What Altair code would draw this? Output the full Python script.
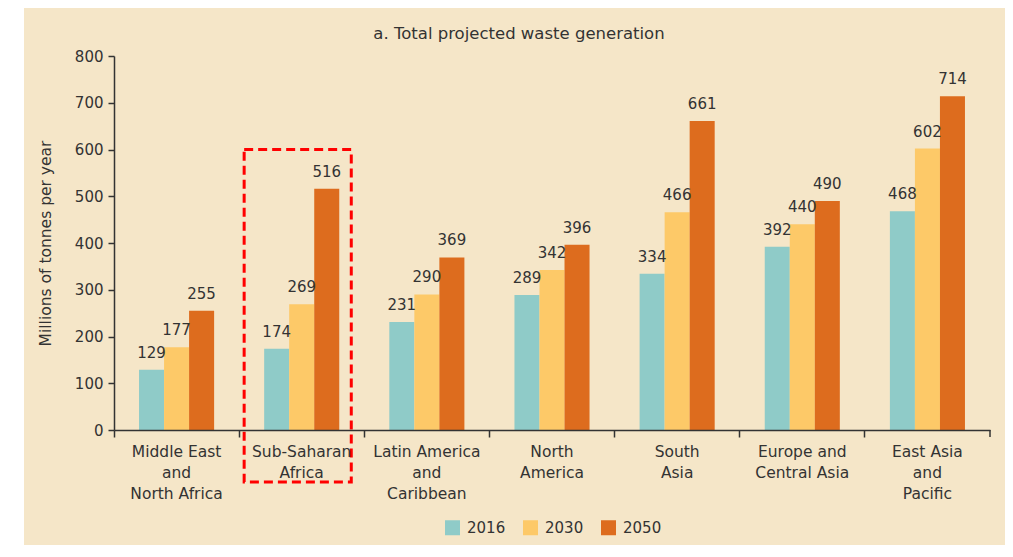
import altair as alt
import pandas as pd

categories = [
    "Middle East|and|North Africa",
    "Sub-Saharan|Africa",
    "Latin America|and|Caribbean",
    "North|America",
    "South|Asia",
    "Europe and|Central Asia",
    "East Asia|and|Pacific",
]
years = ["2016", "2030", "2050"]
v2016 = [129, 174, 231, 289, 334, 392, 468]
v2030 = [177, 269, 290, 342, 466, 440, 602]
v2050 = [255, 516, 369, 396, 661, 490, 714]
colors = ["#8FCBC8", "#FDC968", "#DD6C1E"]

chart_title = ["a. Total projected waste generation"]
highlight_region = ["Sub-Saharan|Africa"]
highlight_top = [600]

rows = []
for yr, vals in zip(years, [v2016, v2030, v2050]):
    for c, v in zip(categories, vals):
        rows.append({"region": c, "year": yr, "value": v})
df = pd.DataFrame(rows)
hl = pd.DataFrame({"region": highlight_region, "top": highlight_top})

W, H = 876, 374
FONT = "DejaVu Sans"
TXT = "#333333"
BG = "#F5E6C8"

xenc = alt.X(
    "region:N",
    sort=categories,
    scale=alt.Scale(paddingInner=0, paddingOuter=0),
    axis=alt.Axis(
        title=None,
        labelExpr="split(datum.label, '|')",
        labelAngle=0,
        labelFontSize=15.5,
        labelLineHeight=21,
        labelColor=TXT,
        labelPadding=7,
        bandPosition=0,
        tickSize=7,
        tickColor=TXT,
        tickWidth=1.5,
        domainColor=TXT,
        domainWidth=1.5,
        labelFont=FONT,
        zindex=2,
    ),
)
xoff = alt.XOffset("year:N", sort=years, scale=alt.Scale(paddingOuter=1, paddingInner=0))
yenc = alt.Y(
    "value:Q",
    scale=alt.Scale(domain=[0, 800]),
    axis=alt.Axis(
        title="Millions of tonnes per year",
        values=list(range(0, 801, 100)),
        grid=False,
        tickSize=6,
        tickColor=TXT,
        tickWidth=1.5,
        domainColor=TXT,
        domainWidth=1.5,
        labelFontSize=15,
        labelColor=TXT,
        labelPadding=5,
        labelFont=FONT,
        titleFont=FONT,
        titleFontSize=15.5,
        titleFontWeight="normal",
        titleColor=TXT,
        titlePadding=21,
        zindex=2,
    ),
)

background = alt.Chart(pd.DataFrame({"a": [0]})).mark_rect(color=BG).encode(
    x=alt.value(-90), x2=alt.value(W + 15), y=alt.value(-48), y2=alt.value(H + 115)
)

title = alt.Chart(pd.DataFrame({"t": chart_title})).mark_text(
    fontSize=16.5, font=FONT, color=TXT, baseline="middle", align="center"
).encode(x=alt.value(W / 2 - 33), y=alt.value(-22), text="t:N")

bars = alt.Chart(df).mark_bar().encode(
    x=xenc,
    xOffset=xoff,
    y=yenc,
    color=alt.Color(
        "year:N",
        sort=years,
        scale=alt.Scale(domain=years, range=colors),
        legend=alt.Legend(
            title=None,
            orient="none",
            legendX=331,
            legendY=464,
            direction="horizontal",
            symbolType="square",
            symbolSize=225,
            symbolStrokeWidth=0,
            labelFontSize=15,
            labelFont=FONT,
            labelColor=TXT,
            labelOffset=7,
            columnPadding=17,
            zindex=2,
        ),
    ),
)

labels = alt.Chart(df).mark_text(
    baseline="alphabetic", dy=-12, fontSize=15, font=FONT, color=TXT
).encode(
    x=alt.X("region:N", sort=categories),
    xOffset=alt.XOffset("year:N", sort=years),
    y="value:Q",
    text="value:Q",
)

box = alt.Chart(hl).mark_rect(
    filled=False,
    stroke="#FF0000",
    strokeWidth=3,
    strokeDash=[9, 5],
    width={"band": 0.856},
    xOffset=-4,
).encode(
    x=alt.X("region:N", sort=categories),
    y="top:Q",
    y2=alt.value(H + 52),
)

end_tick = alt.Chart(pd.DataFrame({"a": [0]})).mark_rule(color=TXT, strokeWidth=1.5).encode(
    x=alt.value(W), y=alt.value(H), y2=alt.value(H + 7)
)

chart = (
    alt.layer(background, title, bars, labels, end_tick, box)
    .properties(
        width=W,
        height=H,
        padding={"left": 16, "top": 0, "right": 0, "bottom": 0},
        background="white",
    )
    .configure_view(stroke=None)
)

chart.save("out.html", embed_options={"renderer": "svg", "actions": False})
